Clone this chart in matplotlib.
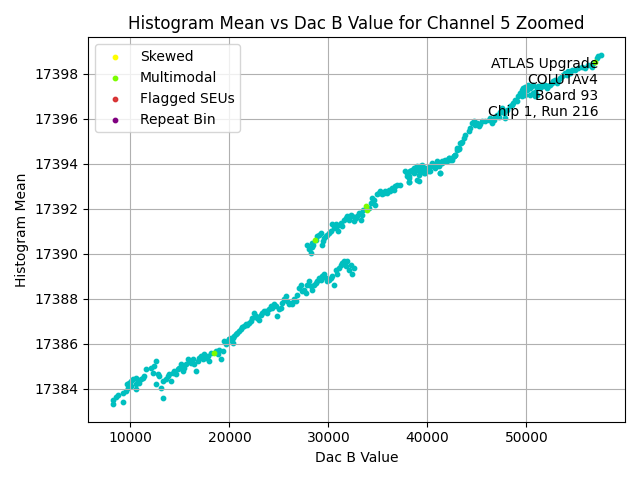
import numpy as np
import matplotlib
matplotlib.use('Agg')
import matplotlib.pyplot as plt

# values
dac_b = [
    8220, 8220, 8556, 8791, 9228, 9228, 9564, 9732, 9665, 9900, 10068, 10236, 10068, 10572,
    10572, 10572, 10740, 10908, 11076, 11244, 11412, 11580, 12084, 12420, 12588, 12252, 12756,
    12588, 12924, 13092, 13260, 13260, 13596, 13764, 13932, 14100, 14268, 14436, 14604, 14772,
    14940, 15108, 15276, 15444, 15612, 15780, 15948, 16116, 16284, 16452, 16620, 16788, 16956,
    17124, 17292, 17460, 17628, 17796, 17964, 18132, 18636, 18804, 18972, 19140, 19308, 19476,
    19644, 19812, 19980, 20148, 20316,
    19974, 20310, 20478, 20646, 20814, 20982, 21150, 21318, 21486, 21653, 21821, 21989, 22157,
    22325, 22493, 22661, 22829, 22997, 23165, 23332, 23500, 23668, 23836, 24004, 24172, 24340,
    24508, 24676, 24844, 25011, 25179, 25347, 25515, 25683, 25851, 26019, 26187, 26355, 26523,
    26690, 26858, 27026, 27194, 27362, 27530, 27698, 27866, 28034, 28202, 28369, 28537, 28705,
    28873, 29041, 29209, 29377, 29545, 29713, 29881, 30048, 30216, 30384, 30552, 30720, 30888,
    31056, 31224, 31392, 31560, 31727, 31895, 32063, 32231, 32399, 32567,
    27867, 28034, 28202, 28102, 28303, 28437, 28370, 28706, 28874, 29042, 29210, 29378, 29445,
    29546, 29713, 29881, 30049, 30217, 30385, 30553, 30721, 30889, 30989, 31225, 31392, 31560,
    31728, 31896, 32064, 32232, 32400, 32568, 32736, 32903, 33071, 33239, 33407, 33508, 34079,
    34247, 34415, 34583, 34750, 34918, 35086, 35254, 35422, 35590, 35758, 35926, 36094, 36262,
    36429, 36597, 36765, 36933, 38108,
    37941, 38108, 38276, 38444, 38612, 38780, 38948, 39116, 39284, 39452, 39620, 39787, 39955,
    40291, 40459, 40795, 41130, 41298, 41466, 41802, 41970, 42138, 42306, 42474, 42641, 42809,
    42977, 43145, 43380, 38108, 38948, 39116,
    37270, 37774, 37942, 38109, 38277, 38445, 38613, 38781, 38949, 39117, 39285, 39453, 39621,
    39788, 39956, 40124, 40292, 40460, 40796, 40964, 41132, 41300, 41467, 41635, 41803, 41971,
    42139, 42307, 42475, 42643, 42811, 42979, 43146, 43314, 43482, 43650, 43818, 44154, 44322,
    44490, 44657, 44825, 44993, 45161, 45329, 45497, 45833, 46168, 46336, 46504, 46672, 46840,
    47008, 47176, 47343, 47511, 47679, 47847, 48015, 48351, 48519, 48687, 48855, 49023, 49191,
    49359, 49527, 49694, 49862, 50030, 50366, 50702, 50870, 51038,
    49527, 49695, 49863, 50199, 50367, 50534, 50702, 50870, 51038, 51206, 51374, 51542, 51710,
    51878, 52046, 52213, 52381, 52549, 52717, 52885, 53053, 53221, 53389, 53557, 53724, 53892,
    54060, 54228, 54396, 54564, 54900, 55236, 55571, 55907, 56243, 56579, 56747, 57083, 57250,
    57486,
]
hist_mean = [
    17383.32, 17383.49, 17383.64, 17383.73, 17383.44, 17383.83, 17383.91, 17384.06, 17384.23,
    17384.28, 17384.35, 17384.43, 17384.13, 17384.20, 17383.98, 17384.50, 17384.35, 17384.28,
    17384.43, 17384.50, 17384.57, 17384.87, 17384.94, 17385.02, 17385.24, 17384.72, 17384.65,
    17384.20, 17384.57, 17384.06, 17384.35, 17383.61, 17384.43, 17384.57, 17384.65, 17384.35,
    17384.72, 17384.79, 17384.65, 17384.87, 17384.94, 17385.09, 17384.79, 17384.94, 17385.09,
    17385.31, 17385.24, 17385.16, 17385.31, 17385.09, 17384.79, 17385.24, 17385.39, 17385.46,
    17385.31, 17385.53, 17385.39, 17385.46, 17385.24, 17385.61, 17385.68, 17385.53, 17385.75,
    17385.31, 17385.68, 17386.12, 17385.98, 17386.12, 17386.20, 17386.27, 17386.05,
    17386.20, 17386.24, 17386.34, 17386.42, 17386.49, 17386.56, 17386.64, 17386.74, 17386.79,
    17386.86, 17386.83, 17386.93, 17387.01, 17387.16, 17387.38, 17387.23, 17387.16, 17387.08,
    17387.30, 17387.38, 17387.45, 17387.48, 17387.38, 17387.53, 17387.67, 17387.60, 17387.75,
    17387.67, 17387.23, 17387.53, 17387.60, 17387.82, 17387.97, 17388.12, 17387.89, 17387.75,
    17387.82, 17387.75, 17387.97, 17387.89, 17388.19, 17388.48, 17388.63, 17388.34, 17388.41,
    17388.26, 17388.63, 17388.78, 17388.56, 17388.41, 17388.63, 17388.71, 17388.78, 17388.93,
    17388.85, 17389.00, 17389.08, 17388.93, 17388.78, 17388.85, 17388.93, 17389.00, 17388.63,
    17389.30, 17389.08, 17389.37, 17389.52, 17389.59, 17389.67, 17389.45, 17389.67, 17389.30,
    17389.52, 17389.08, 17389.37,
    17390.38, 17390.19, 17390.04, 17390.26, 17390.29, 17390.41, 17390.48, 17390.63, 17390.78,
    17390.85, 17390.93, 17390.41, 17390.56, 17390.70, 17390.78, 17390.85, 17390.93, 17391.00,
    17391.30, 17391.15, 17391.30, 17391.22, 17391.00, 17391.37, 17391.22, 17391.52, 17391.59,
    17391.67, 17391.52, 17391.74, 17391.66, 17391.44, 17391.59, 17391.66, 17391.81, 17391.52,
    17391.74, 17391.96, 17392.03, 17392.26, 17392.48, 17392.40, 17392.18, 17392.63, 17392.70,
    17392.77, 17392.63, 17392.70, 17392.77, 17392.70, 17392.85, 17392.77, 17392.92, 17392.85,
    17392.99, 17393.07, 17393.19,
    17393.59, 17393.44, 17393.66, 17393.69, 17393.59, 17393.81, 17393.84, 17393.73, 17393.88,
    17393.66, 17393.59, 17393.81, 17393.73, 17393.69, 17393.88, 17393.96, 17393.88, 17393.59,
    17394.10, 17394.18, 17394.10, 17394.25, 17394.18, 17394.25, 17394.33, 17394.37, 17394.69,
    17394.66, 17394.92, 17393.19, 17393.29, 17393.22,
    17393.06, 17393.66, 17393.43, 17393.36, 17393.66, 17393.73, 17393.80, 17393.66, 17393.88,
    17393.51, 17393.73, 17393.95, 17393.80, 17393.58, 17393.73, 17393.66, 17393.88, 17394.03,
    17393.80, 17394.10, 17393.95, 17393.58, 17394.03, 17394.10, 17394.13, 17394.17, 17394.25,
    17394.22, 17394.17, 17394.32, 17394.39, 17394.62, 17394.69, 17394.91, 17394.98, 17395.13,
    17395.28, 17395.46, 17395.58, 17395.80, 17395.87, 17395.72, 17395.80, 17395.65, 17395.75,
    17395.87, 17395.90, 17395.95, 17396.02, 17395.80, 17395.95, 17396.09, 17396.17, 17396.09,
    17396.31, 17396.46, 17396.24, 17396.02, 17396.39, 17396.54, 17396.61, 17396.68, 17396.83,
    17396.76, 17396.98, 17397.13, 17397.27, 17397.35, 17397.42, 17397.27, 17397.05, 17397.13,
    17396.98, 17397.05,
    17396.98, 17397.20, 17397.06, 17397.50, 17397.35, 17397.43, 17397.50, 17397.20, 17397.35,
    17397.43, 17397.35, 17397.50, 17397.43, 17397.50, 17397.35, 17397.43, 17397.50, 17397.57,
    17397.65, 17397.72, 17397.57, 17397.65, 17397.80, 17397.87, 17397.94, 17398.02, 17397.94,
    17398.09, 17398.02, 17398.16, 17398.16, 17398.24, 17398.31, 17398.24, 17398.39, 17398.31,
    17398.46, 17398.68, 17398.76, 17398.83,
]

# multimodal bins
multi_dac = [18468, 28639, 33743, 33844, 56915]
multi_mean = [17385.58, 17390.59, 17392.11, 17391.92, 17398.53]

fig, ax = plt.subplots(figsize=(6.4, 4.8), dpi=100)
ax.scatter(dac_b, hist_mean, s=10, color='c')
ax.scatter([], [], s=10, color='yellow', label='Skewed')
ax.scatter(multi_dac, multi_mean, s=10, color='lawngreen', label='Multimodal')
ax.scatter([], [], s=10, color='tab:red', alpha=0.9, label='Flagged SEUs')
ax.scatter([], [], s=10, color='purple', label='Repeat Bin')

ax.set_title('Histogram Mean vs Dac B Value for Channel 5 Zoomed')
ax.set_xlabel('Dac B Value')
ax.set_ylabel('Histogram Mean')
ax.grid(True)
ax.legend(loc='upper left')
ax.text(0.95, 0.95, 'ATLAS Upgrade\nCOLUTAv4\nBoard 93\nChip 1, Run 216',
        transform=ax.transAxes, ha='right', va='top', multialignment='right')
ax.ticklabel_format(useOffset=False, style='plain', axis='y')

fig.tight_layout()
fig.savefig('out.png')
